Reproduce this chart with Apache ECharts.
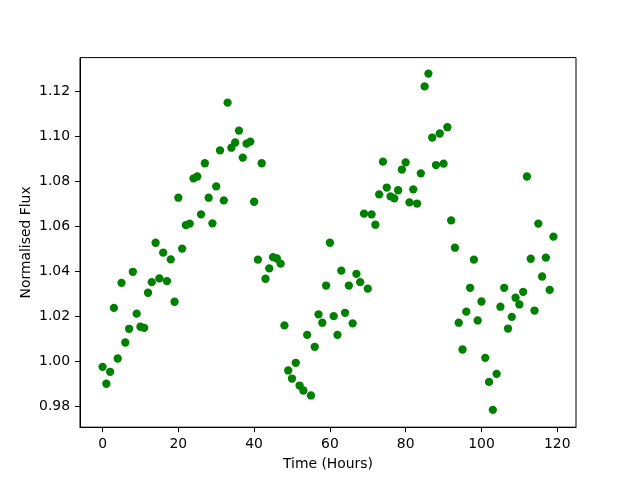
<!DOCTYPE html>
<html>
<head>
<meta charset="utf-8">
<script src="https://cdn.jsdelivr.net/npm/echarts@6/dist/echarts.min.js"></script>
<style>html,body{margin:0;padding:0;background:#fff;}#chart{width:640px;height:480px;}</style>
</head>
<body>
<div id="chart"></div>
<script>
var hours = [];
for (var i = 0; i < 120; i++) hours.push(i);
var flux = [
0.9975,0.9900,0.9953,1.0237,1.0012,1.0348,1.0083,1.0144,1.0397,1.0211,
1.0153,1.0148,1.0304,1.0351,1.0526,1.0368,1.0482,1.0356,1.0452,1.0264,
1.0726,1.0500,1.0604,1.0611,1.0812,1.0820,1.0652,1.0879,1.0726,1.0612,
1.0776,1.0936,1.0714,1.1148,1.0948,1.0971,1.1024,1.0904,1.0966,1.0975,
1.0708,1.0451,1.0879,1.0366,1.0412,1.0462,1.0456,1.0433,1.0159,0.9959,
0.9923,0.9993,0.9892,0.9870,1.0117,0.9848,1.0064,1.0208,1.0171,1.0336,
1.0526,1.0200,1.0117,1.0402,1.0215,1.0336,1.0168,1.0388,1.0351,1.0655,
1.0322,1.0652,1.0606,1.0741,1.0886,1.0771,1.0732,1.0723,1.0759,1.0851,
1.0883,1.0705,1.0763,1.0700,1.0834,1.1220,1.1277,1.0993,1.0871,1.1011,
1.0877,1.1039,1.0625,1.0504,1.0171,1.0052,1.0220,1.0326,1.0451,1.0181,
1.0265,1.0015,0.9908,0.9784,0.9944,1.0242,1.0326,1.0145,1.0197,1.0282,
1.0252,1.0308,1.0820,1.0455,1.0225,1.0611,1.0376,1.0460,1.0317,1.0553
];
var xTicks = [0, 20, 40, 60, 80, 100, 120];
var yTicks = [0.98, 1.00, 1.02, 1.04, 1.06, 1.08, 1.10, 1.12];

var points = hours.map(function (h, i) { return [h, flux[i]]; });
var font = 'DejaVu Sans';
var chart = echarts.init(document.getElementById('chart'), null, {renderer: 'canvas'});
chart.setOption({
  backgroundColor: '#fff',
  animation: false,
  grid: {left: 80, right: 64, top: 57.6, bottom: 52.8, show: true, borderColor: '#000', borderWidth: 1, backgroundColor: 'transparent'},
  xAxis: {
    type: 'value', min: -5.95, max: 124.95,
    name: 'Time (Hours)', nameLocation: 'middle', nameGap: 30,
    nameTextStyle: {fontFamily: font, fontSize: 13.9, color: '#000'},
    axisLine: {show: true, onZero: false, lineStyle: {color: '#000', width: 1}},
    axisTick: {show: true, length: 5, lineStyle: {color: '#000', width: 1}, customValues: xTicks},
    axisLabel: {fontFamily: font, fontSize: 13.9, color: '#000', margin: 10, customValues: xTicks,
      formatter: function (v) { return String(Math.round(v)); }},
    splitLine: {show: false}
  },
  yAxis: {
    type: 'value', min: 0.9707, max: 1.1348,
    name: 'Normalised Flux', nameLocation: 'middle', nameGap: 47, nameMoveOverlap: false,
    nameTextStyle: {fontFamily: font, fontSize: 13.9, color: '#000'},
    axisLine: {show: true, onZero: false, lineStyle: {color: '#000', width: 1}},
    axisTick: {show: true, length: 5, lineStyle: {color: '#000', width: 1}, customValues: yTicks},
    axisLabel: {fontFamily: font, fontSize: 13.9, color: '#000', margin: 10, customValues: yTicks,
      formatter: function (v) { return v.toFixed(2); }},
    splitLine: {show: false}
  },
  series: [{
    type: 'scatter', data: points, symbol: 'circle', symbolSize: 8.3,
    itemStyle: {color: '#008000', opacity: 1}
  }]
});
</script>
</body>
</html>
